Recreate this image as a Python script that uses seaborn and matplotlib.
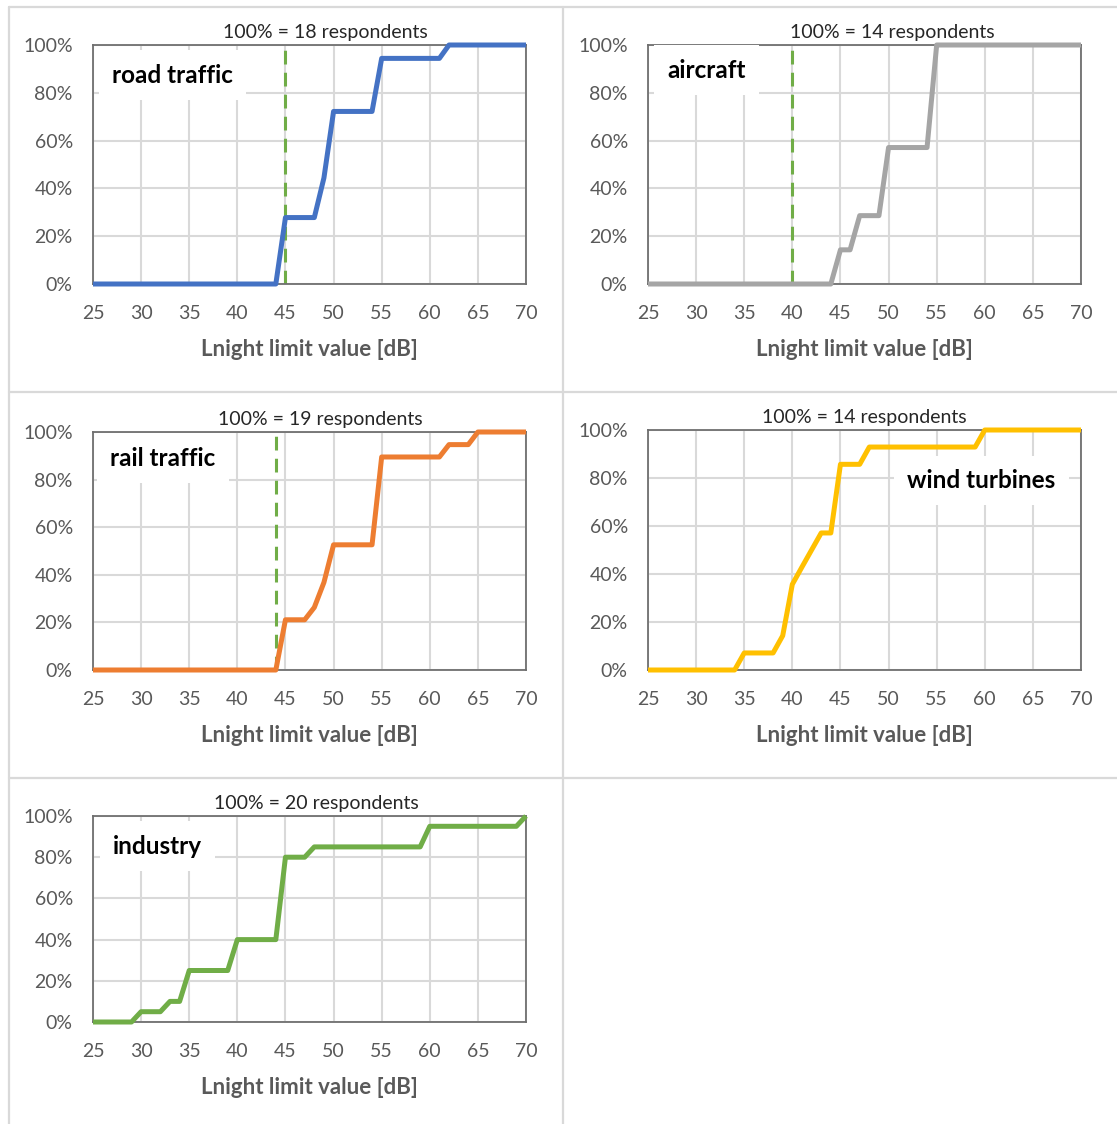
import pandas as pd
import matplotlib.pyplot as plt
import seaborn as sns
from matplotlib.lines import Line2D
from matplotlib.ticker import PercentFormatter

# Lnight limit value [dB]
db = [25, 26, 27, 28, 29, 30, 31, 32, 33, 34,
      35, 36, 37, 38, 39, 40, 41, 42, 43, 44,
      45, 46, 47, 48, 49, 50, 51, 52, 53, 54,
      55, 56, 57, 58, 59, 60, 61, 62, 63, 64,
      65, 66, 67, 68, 69, 70]

# cumulative share of respondents [%]
road_traffic = [0, 0, 0, 0, 0, 0, 0, 0, 0, 0,
                0, 0, 0, 0, 0, 0, 0, 0, 0, 0,
                27.8, 27.8, 27.8, 27.8, 44.4, 72.2, 72.2, 72.2, 72.2, 72.2,
                94.4, 94.4, 94.4, 94.4, 94.4, 94.4, 94.4, 100, 100, 100,
                100, 100, 100, 100, 100, 100]
aircraft = [0, 0, 0, 0, 0, 0, 0, 0, 0, 0,
            0, 0, 0, 0, 0, 0, 0, 0, 0, 0,
            14.3, 14.3, 28.6, 28.6, 28.6, 57.1, 57.1, 57.1, 57.1, 57.1,
            100, 100, 100, 100, 100, 100, 100, 100, 100, 100,
            100, 100, 100, 100, 100, 100]
rail_traffic = [0, 0, 0, 0, 0, 0, 0, 0, 0, 0,
                0, 0, 0, 0, 0, 0, 0, 0, 0, 0,
                21.1, 21.1, 21.1, 26.3, 36.8, 52.6, 52.6, 52.6, 52.6, 52.6,
                89.5, 89.5, 89.5, 89.5, 89.5, 89.5, 89.5, 94.7, 94.7, 94.7,
                100, 100, 100, 100, 100, 100]
wind_turbines = [0, 0, 0, 0, 0, 0, 0, 0, 0, 0,
                 7.1, 7.1, 7.1, 7.1, 14.3, 35.7, 42.9, 50.0, 57.1, 57.1,
                 85.7, 85.7, 85.7, 92.9, 92.9, 92.9, 92.9, 92.9, 92.9, 92.9,
                 92.9, 92.9, 92.9, 92.9, 92.9, 100, 100, 100, 100, 100,
                 100, 100, 100, 100, 100, 100]
industry = [0, 0, 0, 0, 0, 5, 5, 5, 10, 10,
            25, 25, 25, 25, 25, 40, 40, 40, 40, 40,
            80, 80, 80, 85, 85, 85, 85, 85, 85, 85,
            85, 85, 85, 85, 85, 95, 95, 95, 95, 95,
            95, 95, 95, 95, 95, 100]

names = ['road traffic', 'aircraft', 'rail traffic', 'wind turbines', 'industry']
series = [road_traffic, aircraft, rail_traffic, wind_turbines, industry]
respondents = [18, 14, 19, 14, 20]
limits = [45, 40, 44, None, None]
colors = ['#4472C4', '#A5A5A5', '#ED7D31', '#FFC000', '#70AD47']

sns.set_style('white')
plt.rcParams['font.family'] = ['Lato', 'DejaVu Sans']

W, H = 1117, 1124
fig = plt.figure(figsize=(W / 100, H / 100), dpi=100)

# axes boxes in pixels: left, top, right, bottom
boxes = [(93, 45, 526, 284), (648, 45, 1081, 284),
         (93, 432, 526, 670), (648, 430, 1081, 670),
         (93, 816, 526, 1022)]
title_cx = [325, 892, 320, 864, 316]
label_pos = [(0.044, 0.874), (0.044, 0.895), (0.039, 0.89), (0.598, 0.79), (0.046, 0.854)]

grey = '#595959'
for i, name in enumerate(names):
    l, t, r, b = boxes[i]
    ax = fig.add_axes([l / W, 1 - b / H, (r - l) / W, (b - t) / H])
    df = pd.DataFrame({'dB': db, 'share': series[i]})
    ax.set_axisbelow(True)
    ax.grid(True, color='#d9d9d9', lw=1.5)
    if limits[i] is not None:
        ax.axvline(limits[i], color='#70AD47', lw=2.2, dashes=(4.5, 2.7), zorder=1.5)
    sns.lineplot(data=df, x='dB', y='share', ax=ax, color=colors[i], lw=3.6,
                 clip_on=False, solid_capstyle='butt', zorder=3)
    ax.set_xlim(25, 70)
    ax.set_ylim(0, 100)
    ax.set_xticks(range(25, 71, 5))
    ax.set_yticks(range(0, 101, 20))
    ax.yaxis.set_major_formatter(PercentFormatter(100, decimals=0))
    ax.tick_params(length=0, labelsize=14, labelcolor=grey)
    ax.tick_params(axis='x', pad=15)
    ax.tick_params(axis='y', pad=14.5)
    for s in ax.spines.values():
        s.set_visible(True)
        s.set_color('#6f6f6f')
        s.set_linewidth(1.3)
    ax.set_ylabel('')
    ax.set_xlabel('Lnight limit value [dB]', fontsize=16, fontweight='bold',
                  color=grey, labelpad=12)
    ax.set_title(f'100% = {respondents[i]} respondents', fontsize=14,
                 color='#262626', pad=5, x=(title_cx[i] - l) / (r - l))
    ax.text(label_pos[i][0], label_pos[i][1], name, transform=ax.transAxes,
            fontsize=17.5, fontweight='bold', color='black', va='center', ha='left',
            zorder=4, bbox=dict(boxstyle='square,pad=0.55', fc='white', ec='none'))

# table cell borders
for x0, y0, x1, y1 in [(9, 7, 1117, 7), (9, 7, 9, 1124), (563, 7, 563, 1124),
                       (9, 392, 1117, 392), (9, 778, 1117, 778)]:
    fig.add_artist(Line2D([x0 / W, x1 / W], [1 - y0 / H, 1 - y1 / H],
                          color='#d9d9d9', lw=1.6))

fig.savefig('out.png', dpi=100)
